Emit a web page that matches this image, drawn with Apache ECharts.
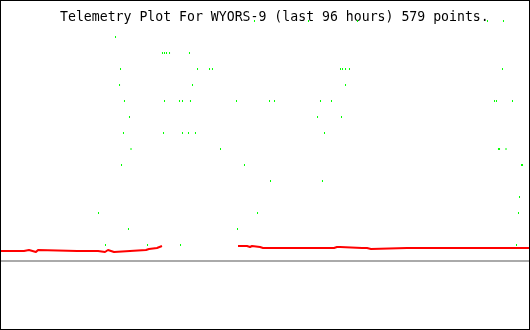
<!DOCTYPE html>
<html>
<head>
<meta charset="utf-8">
<script src="https://cdn.jsdelivr.net/npm/echarts@6/dist/echarts.min.js"></script>
<style>
html,body{margin:0;padding:0;background:#fff;}
#wrap{position:relative;width:530px;height:330px;}
#chart{position:absolute;left:0;top:0;width:530px;height:330px;}
#frame{position:absolute;left:0;top:0;width:530px;height:330px;box-sizing:border-box;border:1px solid #000;pointer-events:none;}
</style>
</head>
<body>
<div id="wrap"><div id="chart"></div><div id="frame"></div></div>
<script>
// Title
var titleText = 'Telemetry Plot For WYORS-9 (last 96 hours) 579 points.';

// Green channel: time (hours into 96h window) and raw value
var greenHours = [
  46.09, 55.91, 64.82, 88.45, 91.36,
  20.82,
  29.36, 29.73, 30.09, 30.64, 34.27,
  21.73, 35.73, 37.91, 38.45, 61.73, 62.09, 62.64, 63.36, 91.18,
  21.55, 34.82, 62.64,
  22.45, 29.73, 32.45, 33.00, 34.45, 42.82, 48.82, 49.73, 58.09, 60.09, 89.73, 90.09, 93.00,
  23.36, 57.55, 61.91,
  22.27, 29.55, 33.00, 34.09, 35.36, 58.82,
  23.64, 39.91, 90.45, 90.64, 91.82,
  21.91, 44.27, 94.64, 94.82,
  49.00, 58.45,
  94.27,
  17.73, 46.64, 94.09,
  23.18, 43.00,
  19.00, 26.64, 32.64, 93.73
];
var greenValues = [
  240, 240, 240, 240, 240,
  224,
  208, 208, 208, 208, 208,
  192, 192, 192, 192, 192, 192, 192, 192, 192,
  176, 176, 176,
  160, 160, 160, 160, 160, 160, 160, 160, 160, 160, 160, 160, 160,
  144, 144, 144,
  128, 128, 128, 128, 128, 128,
  112, 112, 112, 112, 112,
  96, 96, 96, 96,
  80, 80,
  64,
  48, 48, 48,
  32, 32,
  16, 16, 16, 16
];

// Red channel: time (hours) and raw value (null = no data)
var redHours = [
  0, 4.18, 5.09, 6.36, 6.73, 13.82, 14.00, 17.64, 17.82, 18.91, 19.45, 20.55,
  26.36, 26.91, 28.36, 28.55, 29.27, 29.28,
  43.09, 44.73, 45.27, 45.64, 47.09, 47.64, 48.00, 60.55, 61.09, 61.27, 61.64,
  65.64, 66.00, 66.55, 67.27, 73.82, 74.18, 74.73, 75.09, 96.00
];
var redValues = [
  10, 11, 9, 11, 10, 11, 10, 11, 9, 11, 9, 11,
  12, 13, 14, 15, 15, null,
  15, 14, 15, 14, 13, 14, 13, 14, 13, 14, 13,
  12, 13, 12, 13, 14, 13, 14, 13, 13
];

var greenData = greenHours.map(function (h, i) { return [h, greenValues[i]]; });
var redData = redHours.map(function (h, i) { return [h, redValues[i]]; });

var chart = echarts.init(document.getElementById('chart'), null, {renderer: 'canvas'});
chart.setOption({
  animation: false,
  backgroundColor: '#fff',
  title: {
    text: titleText,
    left: 60,
    top: 11,
    padding: 0,
    textStyle: {
      fontFamily: 'DejaVu Sans Mono',
      fontSize: 13.2,
      fontWeight: 'normal',
      color: '#000'
    }
  },
  grid: {left: 1, right: 1, top: 5, bottom: 69, containLabel: false},
  xAxis: {
    type: 'value', min: 0, max: 96,
    axisLine: {show: true, onZero: false, lineStyle: {color: '#aaaaaa', width: 2}},
    axisTick: {show: false}, axisLabel: {show: false}, splitLine: {show: false}
  },
  yAxis: {
    type: 'value', min: 0, max: 256, show: false,
    splitLine: {show: false}
  },
  series: [
    {
      type: 'line',
      data: redData,
      step: 'end',
      showSymbol: false,
      symbol: 'none',
      connectNulls: false,
      lineStyle: {color: '#ff0000', width: 2, opacity: 1},
      z: 8,
      silent: true
    },
    {
      type: 'scatter',
      data: greenData,
      symbol: 'rect',
      symbolSize: [1, 2],
      itemStyle: {color: '#00ff00', opacity: 1},
      z: 10,
      silent: true
    }
  ]
});
</script>
</body>
</html>
